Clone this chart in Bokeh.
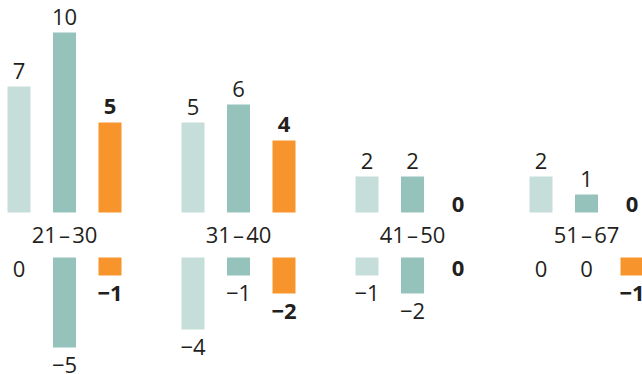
from bokeh.plotting import figure
from bokeh.models import Range1d, ColumnDataSource
from bokeh.core.properties import value
from bokeh.embed import file_html
from bokeh.resources import INLINE

# Age bands and the three series, upper panel (gains) and lower panel (losses)
groups = ["21\u200a–\u200a30", "31\u200a–\u200a40", "41\u200a–\u200a50", "51\u200a–\u200a67"]
upper_a = [7, 5, 2, 2]
upper_b = [10, 6, 2, 1]
upper_c = [5, 4, 0, 0]
lower_a = [0, -4, -1, 0]
lower_b = [-5, -1, -2, 0]
lower_c = [-1, -2, 0, -1]

COLORS = ["#c6ded9", "#95c3bb", "#f7942b"]
BOLD = [False, False, True]
TEXT = "#231f20"
FONT = "Open Sans"
SIZE = "22px"

# layout in data units: one unit = bar-to-bar step inside a group
PX = 45.5                      # pixels per x unit
GROUP_STEP = 174 / PX
BAR_W = 23 / PX
YPX = 18.0                     # pixels per value unit
GAP = 45 / YPX                 # vertical gap between the two panels
SHIFT = -9                     # baseline correction for the svg text

W, H = 642, 374
x0 = -18.5 / PX
y_top = 212 / YPX

p = figure(width=W, height=H, output_backend="svg", toolbar_location=None,
           x_range=Range1d(x0, x0 + W / PX),
           y_range=Range1d(y_top - H / YPX, y_top),
           x_axis_type=None, y_axis_type=None, min_border=0)
p.outline_line_color = None
p.grid.visible = False
p.background_fill_color = "white"
p.border_fill_color = "white"


def fmt(v):
    return str(v) if v >= 0 else "\u2212" + str(-v)


upper = [upper_a, upper_b, upper_c]
lower = [lower_a, lower_b, lower_c]

for s in range(3):
    xs = [g * GROUP_STEP + s for g in range(len(groups))]
    up = upper[s]
    lo = lower[s]
    p.vbar(x=xs, top=up, bottom=0, width=BAR_W, fill_color=COLORS[s], line_color=None)
    p.vbar(x=xs, top=[v - GAP for v in lo], bottom=-GAP, width=BAR_W,
           fill_color=COLORS[s], line_color=None)

    lx, ly, lt, lo_off = [], [], [], []
    for x, v in zip(xs, up):
        lx.append(x); ly.append(v); lt.append(fmt(v))
        lo_off.append((-7 if v > 0 else 1) + SHIFT)
    for x, v in zip(xs, lo):
        lx.append(x); ly.append(v - GAP); lt.append(fmt(v))
        lo_off.append((26.5 if v < 0 else 20) + SHIFT)
    src = ColumnDataSource(dict(x=lx, y=ly, text=lt, off=lo_off))
    p.text(x="x", y="y", text="text", y_offset="off", source=src,
           text_align="center", text_baseline="alphabetic",
           text_font=value(FONT), text_font_size=SIZE,
           text_font_style="bold" if BOLD[s] else "normal",
           text_color=TEXT)

# age band labels between the panels
cx = [g * GROUP_STEP + 1 for g in range(len(groups))]
p.text(x=cx, y=[0] * len(groups), text=groups, y_offset=30 + SHIFT,
       text_align="center", text_baseline="alphabetic",
       text_font=value(FONT), text_font_size=SIZE, text_color=TEXT)

open("out.html", "w").write(file_html(p, INLINE))
